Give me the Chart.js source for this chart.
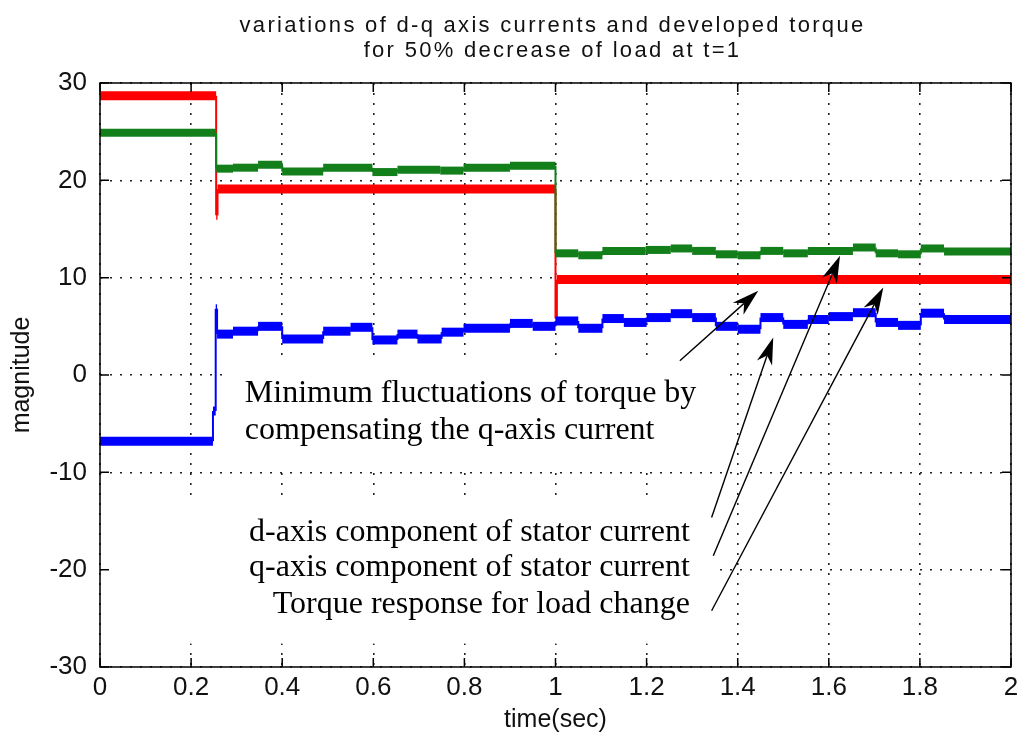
<!DOCTYPE html>
<html>
<head>
<meta charset="utf-8">
<title>d-q axis currents and developed torque</title>
<script src="https://cdn.jsdelivr.net/npm/chart.js@4.4.1/dist/chart.umd.min.js"></script>
<style>
  html, body { margin: 0; padding: 0; background: #fff; }
</style>
</head>
<body>
<canvas id="plot" width="1024" height="744"></canvas>
<script>
// Each trace is a staircase: levels[i] holds from times[i] to times[i + 1]
const torqueTimes = [0, 0.255, 0.258, 1.0, 1.003, 2.0];
const torqueLevels = [28.7, 16.4, 19.1, 5.8, 9.8];

const qTimes = [0, 0.255, 0.292, 0.347, 0.40, 0.49, 0.598, 0.653, 0.747, 0.798, 0.90, 1.0,
    1.05, 1.103, 1.198, 1.253, 1.30, 1.352, 1.40, 1.45, 1.50, 1.554, 1.653, 1.703, 1.752, 1.802, 1.853, 2.0];
const qLevels = [24.9, 21.2, 21.3, 21.6, 20.9, 21.3, 20.85, 21.1, 21.0, 21.3, 21.5,
    12.5, 12.3, 12.75, 12.85, 13.0, 12.75, 12.4, 12.3, 12.75, 12.5, 12.75, 13.1, 12.5, 12.4, 13.0, 12.7];

const dTimes = [0, 0.248, 0.254, 0.257, 0.292, 0.347, 0.40, 0.49, 0.55, 0.598, 0.653, 0.697, 0.75, 0.798, 0.90, 0.95, 1.0,
    1.05, 1.103, 1.15, 1.2, 1.253, 1.30, 1.352, 1.40, 1.45, 1.50, 1.554, 1.60, 1.653, 1.703, 1.752, 1.802, 1.853, 2.0];
const dLevels = [-6.8, -3.7, 6.8, 4.2, 4.5, 5.0, 3.7, 4.5, 4.9, 3.6, 4.2, 3.7, 4.4, 4.8, 5.3, 5.0,
    5.55, 4.8, 5.8, 5.4, 5.9, 6.3, 5.9, 5.0, 4.7, 5.9, 5.2, 5.7, 6.0, 6.4, 5.4, 5.1, 6.35, 5.7];

const xTickValues = [0, 0.2, 0.4, 0.6, 0.8, 1, 1.2, 1.4, 1.6, 1.8, 2];
const yTickValues = [-30, -20, -10, 0, 10, 20, 30];

const titleLines = ['variations of d-q axis currents and developed torque', 'for 50% decrease of load at t=1'];

// Pasted notes (positions in data units: time, magnitude)
const noteBoxes = [
    { t0: 0.268, t1: 1.3655, v0: 1.7, v1: -9.42 },
    { t0: 0.003, t1: 1.3436, v0: -12.7, v1: -27.6 }
];
const noteLines = [
    { text: 'Minimum fluctuations of torque by', t: 0.318, v: -2.74, align: 'left' },
    { text: 'compensating the q-axis current', t: 0.318, v: -6.55, align: 'left' },
    { text: 'd-axis component of stator current', t: 1.295, v: -17.03, align: 'right' },
    { text: 'q-axis component of stator current', t: 1.295, v: -20.63, align: 'right' },
    { text: 'Torque response for load change', t: 1.295, v: -24.43, align: 'right' }
];
const noteArrows = [
    { from: [1.273, 1.47], to: [1.4452, 8.66] },
    { from: [1.3427, -14.64], to: [1.478, 3.86] },
    { from: [1.3464, -18.57], to: [1.6246, 12.26] },
    { from: [1.3427, -24.22], to: [1.7197, 9.0] }
];

function stepPoints(times, levels) {
    const pts = [];
    levels.forEach((v, i) => {
        pts.push({ x: times[i], y: v }, { x: times[i + 1], y: v });
    });
    return pts;
}

// thick plateaus, thin vertical jumps
const stepWidth = (thick) => (c) => c.p0.parsed.x === c.p1.parsed.x ? 2 : thick;

function drawArrow(ctx, x0, y0, x1, y1) {
    const ang = Math.atan2(y1 - y0, x1 - x0);
    const len = 27, half = 8, notch = 19;
    ctx.beginPath();
    ctx.moveTo(x0, y0);
    ctx.lineTo(x1 - Math.cos(ang) * notch, y1 - Math.sin(ang) * notch);
    ctx.stroke();
    ctx.save();
    ctx.translate(x1, y1);
    ctx.rotate(ang);
    ctx.beginPath();
    ctx.moveTo(0, 0);
    ctx.lineTo(-len, -half);
    ctx.lineTo(-notch, 0);
    ctx.lineTo(-len, half);
    ctx.closePath();
    ctx.fill();
    ctx.restore();
}

const figureDecor = {
    id: 'figureDecor',
    beforeDatasetsDraw(chart) {
        const { ctx, scales: { x, y } } = chart;
        ctx.save();
        ctx.fillStyle = '#fff';
        noteBoxes.forEach(b => {
            const px0 = x.getPixelForValue(b.t0), px1 = x.getPixelForValue(b.t1);
            const py0 = y.getPixelForValue(b.v0), py1 = y.getPixelForValue(b.v1);
            ctx.fillRect(px0, py0, px1 - px0, py1 - py0);
        });
        ctx.restore();
    },
    afterDraw(chart) {
        const { ctx, chartArea: a, scales: { x, y } } = chart;
        ctx.save();

        // axes box with inward ticks on all four sides
        ctx.strokeStyle = '#000';
        ctx.lineWidth = 1.5;
        ctx.strokeRect(a.left, a.top, a.right - a.left, a.bottom - a.top);
        ctx.beginPath();
        xTickValues.forEach(v => {
            const px = x.getPixelForValue(v);
            ctx.moveTo(px, a.bottom); ctx.lineTo(px, a.bottom - 9);
            ctx.moveTo(px, a.top); ctx.lineTo(px, a.top + 9);
        });
        yTickValues.forEach(v => {
            const py = y.getPixelForValue(v);
            ctx.moveTo(a.left, py); ctx.lineTo(a.left + 9, py);
            ctx.moveTo(a.right, py); ctx.lineTo(a.right - 9, py);
        });
        ctx.stroke();

        // arrows
        ctx.fillStyle = '#000';
        ctx.lineWidth = 1.4;
        noteArrows.forEach(ar => {
            drawArrow(ctx,
                x.getPixelForValue(ar.from[0]), y.getPixelForValue(ar.from[1]),
                x.getPixelForValue(ar.to[0]), y.getPixelForValue(ar.to[1]));
        });

        // note text
        ctx.font = '32px "Liberation Serif", "Times New Roman", serif';
        ctx.textBaseline = 'alphabetic';
        noteLines.forEach(n => {
            ctx.textAlign = n.align;
            ctx.fillText(n.text, x.getPixelForValue(n.t), y.getPixelForValue(n.v));
        });

        // figure title
        ctx.font = '22px "Liberation Sans", Arial, sans-serif';
        ctx.letterSpacing = '2.3px';
        ctx.textAlign = 'center';
        ctx.fillStyle = '#111';
        const cx = (a.left + a.right) / 2 - 3;
        titleLines.forEach((line, i) => ctx.fillText(line, cx, 32 + i * 25));
        ctx.restore();
    }
};

const ctx = document.getElementById('plot').getContext('2d');
new Chart(ctx, {
    type: 'line',
    data: {
        datasets: [
            {
                label: 'd-axis component of stator current',
                data: stepPoints(dTimes, dLevels),
                borderColor: '#0000ff',
                borderWidth: 9,
                segment: { borderWidth: stepWidth(9) }
            },
            {
                label: 'q-axis component of stator current',
                data: stepPoints(qTimes, qLevels),
                borderColor: '#127f1a',
                borderWidth: 8,
                segment: { borderWidth: stepWidth(8) }
            },
            {
                label: 'Torque response for load change',
                data: stepPoints(torqueTimes, torqueLevels),
                borderColor: '#ff0000',
                borderWidth: 9,
                segment: { borderWidth: stepWidth(9) }
            }
        ]
    },
    options: {
        responsive: false,
        animation: false,
        events: [],
        layout: { padding: { top: 83, right: 13, left: 0, bottom: 0 } },
        elements: { point: { radius: 0 }, line: { tension: 0 } },
        plugins: {
            legend: { display: false },
            tooltip: { enabled: false },
            title: { display: false }
        },
        scales: {
            x: {
                type: 'linear',
                min: 0,
                max: 2,
                afterBuildTicks: s => { s.ticks = xTickValues.map(v => ({ value: v })); },
                afterFit: s => { s.height = 77; },
                ticks: {
                    color: '#111',
                    padding: 5,
                    font: { family: '"Liberation Sans", Arial, sans-serif', size: 26 },
                    callback: v => String(v)
                },
                grid: { color: '#222', lineWidth: 1.6, drawTicks: false },
                border: { display: false, dash: [2, 8] },
                title: {
                    display: true,
                    text: 'time(sec)',
                    color: '#111',
                    font: { family: '"Liberation Sans", Arial, sans-serif', size: 25 },
                    padding: { top: 0, bottom: 9 }
                }
            },
            y: {
                min: -30,
                max: 30,
                afterBuildTicks: s => { s.ticks = yTickValues.map(v => ({ value: v })); },
                afterFit: s => { s.width = 100; },
                ticks: {
                    color: '#111',
                    padding: 13,
                    font: { family: '"Liberation Sans", Arial, sans-serif', size: 26 },
                    callback: v => String(v)
                },
                grid: { color: '#222', lineWidth: 1.6, drawTicks: false },
                border: { display: false, dash: [2, 8] },
                title: {
                    display: true,
                    text: 'magnitude',
                    color: '#111',
                    font: { family: '"Liberation Sans", Arial, sans-serif', size: 25 },
                    padding: { top: 7, bottom: 0 }
                }
            }
        }
    },
    plugins: [figureDecor]
});
</script>
</body>
</html>
